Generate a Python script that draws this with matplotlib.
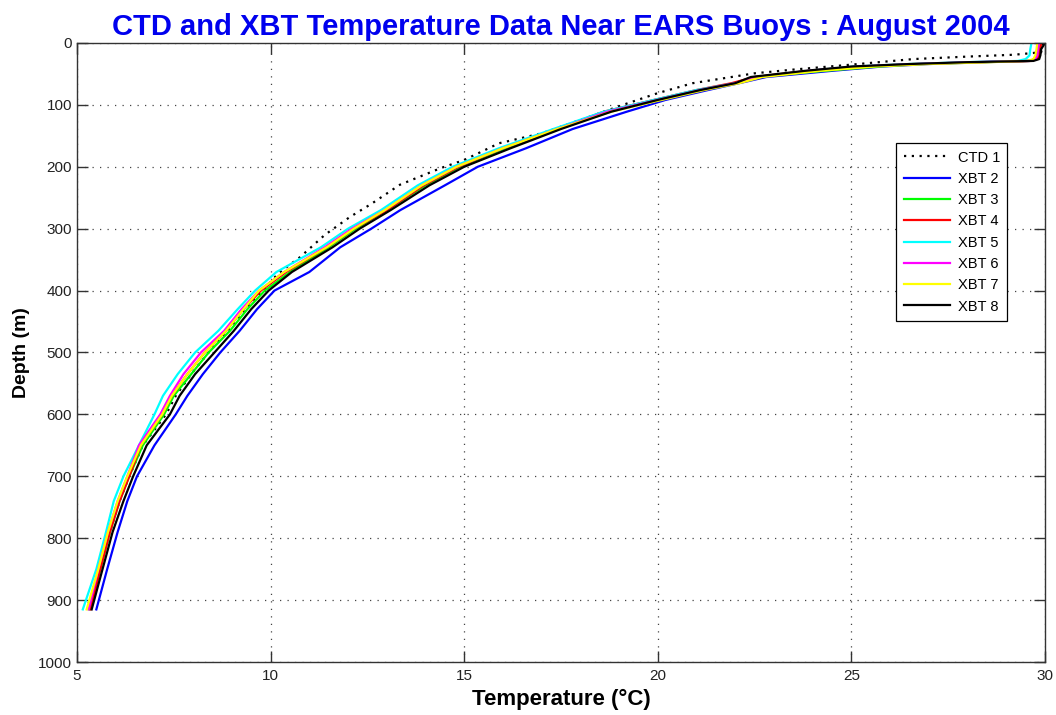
import numpy as np
from matplotlib import pyplot as plt

plt.rcParams['font.family'] = ['Liberation Sans', 'DejaVu Sans']

# depths (m) shared by the XBT drops
xbt_depth = [0, 10, 20, 26, 29, 31, 34, 38, 45, 55, 65, 76, 92, 111, 139, 170, 200, 230,
             270, 300, 330, 370, 400, 430, 465, 500, 535, 570, 600, 650, 700, 740, 790, 850, 915]

# CTD cast
ctd_depth = [0, 15, 19, 22, 26, 35, 43, 49, 65, 81, 100, 120, 146, 162, 189, 202, 229, 260,
             281, 310, 346, 372, 400, 430, 465, 500, 535, 570, 600, 650, 700, 740, 790, 850, 905]
ctd_temp = [29.95, 29.9, 29.2, 28.0, 26.6, 25.0, 23.5, 22.5, 20.9, 20.0, 19.1, 18.2, 17.0, 15.9,
            15.0, 14.4, 13.34, 12.6, 12.05, 11.4, 10.76, 10.2, 9.8, 9.35, 8.9, 8.4, 7.95, 7.55,
            7.3, 6.7, 6.35, 6.1, 5.85, 5.58, 5.3]

xbt2 = [29.85, 29.8, 29.78, 29.75, 29.6, 28.5, 27.0, 25.8, 24.5, 22.8, 22.1, 21.3, 20.2, 19.2,
        17.8, 16.6, 15.35, 14.5, 13.35, 12.6, 11.8, 11.0, 10.1, 9.65, 9.2, 8.7, 8.25, 7.85,
        7.55, 7.0, 6.55, 6.3, 6.05, 5.78, 5.5]
xbt3 = [29.9, 29.85, 29.8, 29.75, 29.6, 28.4, 26.8, 25.7, 24.3, 22.5, 22.0, 21.1, 20.0, 18.7,
        17.4, 16.1, 14.9, 14.0, 13.0, 12.2, 11.5, 10.5, 9.85, 9.4, 8.95, 8.4, 7.95, 7.5,
        7.25, 6.7, 6.35, 6.1, 5.85, 5.6, 5.32]
xbt4 = [29.9, 29.88, 29.85, 29.8, 29.65, 28.3, 26.6, 25.2, 23.9, 22.5, 21.9, 21.0, 19.9, 18.6,
        17.4, 16.0, 14.85, 13.95, 13.0, 12.15, 11.45, 10.4, 9.75, 9.3, 8.85, 8.3, 7.85, 7.45,
        7.2, 6.65, 6.35, 6.1, 5.85, 5.6, 5.35]
xbt5 = [29.65, 29.62, 29.6, 29.5, 29.3, 28.0, 26.5, 25.1, 23.9, 22.6, 22.0, 21.0, 19.9, 18.6,
        17.3, 15.9, 14.7, 13.8, 12.85, 12.0, 11.3, 10.15, 9.6, 9.15, 8.65, 8.05, 7.6, 7.22,
        7.0, 6.6, 6.2, 5.95, 5.75, 5.5, 5.15]
xbt6 = [29.85, 29.82, 29.8, 29.75, 29.6, 28.2, 26.7, 25.2, 23.9, 22.6, 22.0, 21.1, 20.0, 18.7,
        17.4, 16.0, 14.8, 13.9, 12.95, 12.1, 11.4, 10.35, 9.7, 9.25, 8.8, 8.2, 7.75, 7.4,
        7.15, 6.6, 6.3, 6.05, 5.8, 5.55, 5.3]
xbt7 = [29.8, 29.78, 29.75, 29.7, 29.55, 28.6, 27.0, 25.6, 24.2, 22.7, 22.1, 21.2, 20.1, 18.8,
        17.4, 16.0, 14.8, 13.9, 12.95, 12.15, 11.45, 10.35, 9.7, 9.3, 8.85, 8.3, 7.85, 7.45,
        7.2, 6.65, 6.3, 6.05, 5.8, 5.55, 5.25]
xbt8 = [30.0, 29.9, 29.88, 29.85, 29.7, 28.0, 26.5, 25.0, 23.8, 22.4, 22.0, 21.1, 20.0, 18.8,
        17.5, 16.2, 15.0, 14.1, 13.1, 12.3, 11.6, 10.55, 9.95, 9.5, 9.05, 8.55, 8.05, 7.65,
        7.4, 6.8, 6.45, 6.2, 5.92, 5.66, 5.38]

xbt_series = [xbt2, xbt3, xbt4, xbt5, xbt6, xbt7, xbt8]
xbt_labels = ['XBT 2', 'XBT 3', 'XBT 4', 'XBT 5', 'XBT 6', 'XBT 7', 'XBT 8']
xbt_colors = ['#0000ff', '#00ff00', '#ff0000', '#00ffff', '#ff00ff', '#ffff00', '#000000']

fig = plt.figure(figsize=(10.56, 7.15), dpi=100)
ax = fig.add_axes([0.0729, 0.0741, 0.9167, 0.8658])

ax.plot(ctd_temp, ctd_depth, color='k', linestyle=(0, (1, 2.5)), linewidth=1.6, label='CTD 1')
for temps, lab, col in zip(xbt_series, xbt_labels, xbt_colors):
    ax.plot(temps, xbt_depth, color=col, linewidth=1.6, label=lab)

ax.set_xlim(5, 30)
ax.set_ylim(1000, 0)
ax.set_xticks(np.arange(5, 31, 5))
ax.set_yticks(np.arange(0, 1001, 100))
ax.grid(True, color='#444444', linestyle=(0, (1, 5)), linewidth=0.9)
ax.tick_params(direction='in', length=8, width=1, top=True, right=True,
               labelsize=11, color='#333333', labelcolor='#222222')
ax.tick_params(axis='y', pad=3.5)
ax.tick_params(axis='x', pad=5)
for s in ax.spines.values():
    s.set_color('#333333')
    s.set_linewidth(1)

ax.set_title('CTD and XBT Temperature Data Near EARS Buoys : August 2004',
             fontsize=21, fontweight='bold', color='#0000ee', pad=6)
ax.set_xlabel('Temperature (\u00b0C)', fontsize=16, fontweight='bold', labelpad=4)
ax.set_ylabel('Depth (m)', fontsize=14, fontweight='bold', labelpad=6)

leg = ax.legend(loc='upper right', bbox_to_anchor=(0.961, 0.838), fontsize=10.5,
                fancybox=False, edgecolor='k', framealpha=1, handlelength=3.2,
                borderpad=0.5, labelspacing=0.5, handletextpad=0.5, borderaxespad=0)
leg.get_frame().set_linewidth(0.9)

plt.savefig('out.png', dpi=100)
